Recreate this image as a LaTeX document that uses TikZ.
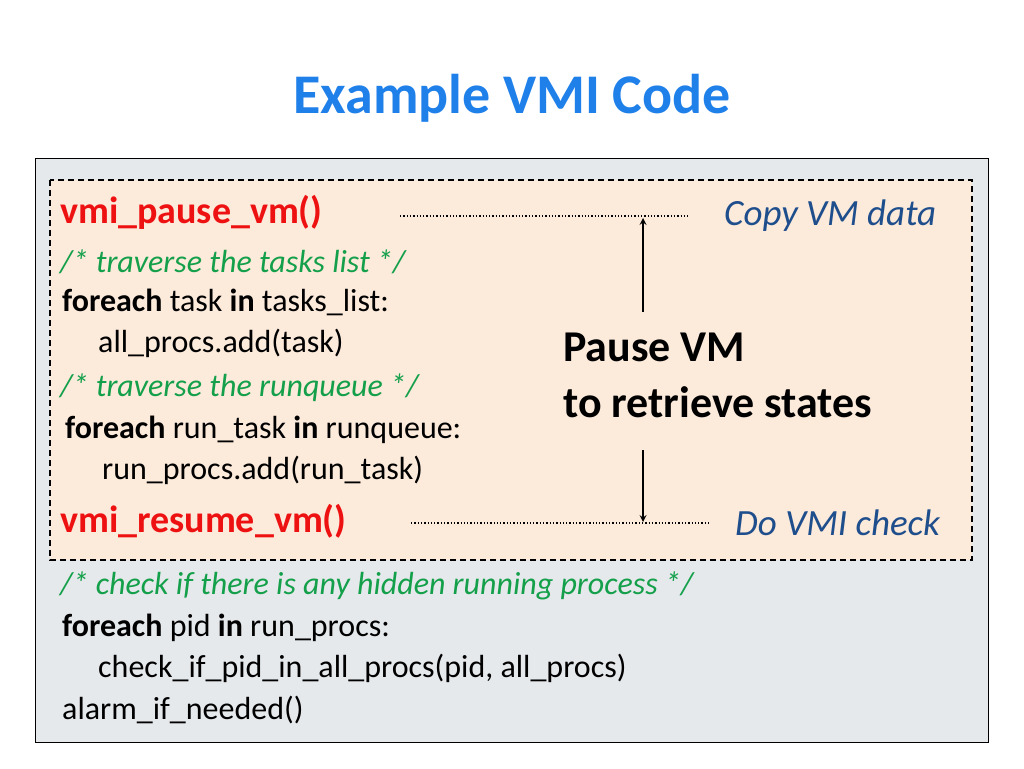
\documentclass[tikz,border=0pt]{standalone}
\usepackage{fontspec}
\setmainfont{Carlito}
\usetikzlibrary{positioning}
\definecolor{titleblue}{HTML}{1F80EA}
\definecolor{codegreen}{HTML}{14A04A}
\definecolor{notered}{HTML}{EE1111}
\definecolor{noteblue}{HTML}{1F4E8C}
\definecolor{outerfill}{HTML}{E6E9EC}
\definecolor{innerfill}{HTML}{FCEADB}
\newcommand{\kw}[1]{\textbf{#1}}

\begin{document}
\begin{tikzpicture}[x=1pt, y=-1pt, >=stealth,
	code/.style={anchor=west, inner sep=0pt, font=\fontsize{32}{38}\selectfont},
	comment/.style={code, color=codegreen, font=\fontsize{32}{38}\selectfont\itshape},
	call/.style={code, color=notered, font=\fontsize{38}{44}\selectfont\bfseries},
	note/.style={anchor=west, inner sep=0pt, color=noteblue, font=\fontsize{37}{44}\selectfont\itshape},
	dots/.style={dotted, line width=1.3pt}]

		\useasboundingbox (0,0) rectangle (1024,768);

		% Title
		\node [color=titleblue, font=\fontsize{56}{64}\selectfont\bfseries] (title) at (512,98) {Example VMI Code};

		% Boxes
		\draw [fill=outerfill, line width=0.8pt] (35,158) rectangle (988,742);
		\draw [fill=innerfill, dash pattern=on 6pt off 4pt, line width=1.5pt] (50,180) rectangle (972,560);

		% Paused part
		\node [call] (pause) at (60,212) {vmi\_pause\_vm()};
		\node [comment] (c-1) at (60,262) {/* traverse the tasks list */};
		\node [code] (loop-1) at (62,302) {\kw{foreach} task \kw{in} tasks\_list:};
		\node [code] (body-1) at (98,343) {all\_procs.add(task)};
		\node [comment] (c-2) at (60,388) {/* traverse the runqueue */};
		\node [code] (loop-2) at (65,430) {\kw{foreach} run\_task \kw{in} runqueue:};
		\node [code] (body-2) at (102,470) {run\_procs.add(run\_task)};
		\node [call] (resume) at (60,521) {vmi\_resume\_vm()};

		% Check part
		\node [comment] (c-3) at (60,586) {/* check if there is any hidden running process */};
		\node [code] (loop-3) at (62,628) {\kw{foreach} pid \kw{in} run\_procs:};
		\node [code] (body-3) at (98,668) {check\_if\_pid\_in\_all\_procs(pid, all\_procs)};
		\node [code] (alarm) at (62,710) {alarm\_if\_needed()};

		% Notes
		\node [note] (copy) at (724,216) {Copy VM data};
		\node [note] (check) at (735,523) {Do VMI check};
		\node [anchor=west, inner sep=0pt, align=left, font=\fontsize{44}{56}\selectfont\bfseries]
			(state) at (563,375) {Pause VM\\to retrieve states};

		\coordinate (top-l) at (400,216);
		\coordinate (top-r) at (688,216);
		\coordinate (bot-l) at (411,523);
		\coordinate (bot-r) at (710,523);
		\coordinate (top-m) at (643,218);
		\coordinate (bot-m) at (643,522);
		\coordinate (up-s) at (643,312);
		\coordinate (dn-s) at (643,450);

		\draw [dots] (top-l) -- (top-r);
		\draw [dots] (bot-l) -- (bot-r);
		\draw [->, line width=2pt] (up-s) -- (top-m);
		\draw [->, line width=2pt] (dn-s) -- (bot-m);

	\end{tikzpicture}
\end{document}
